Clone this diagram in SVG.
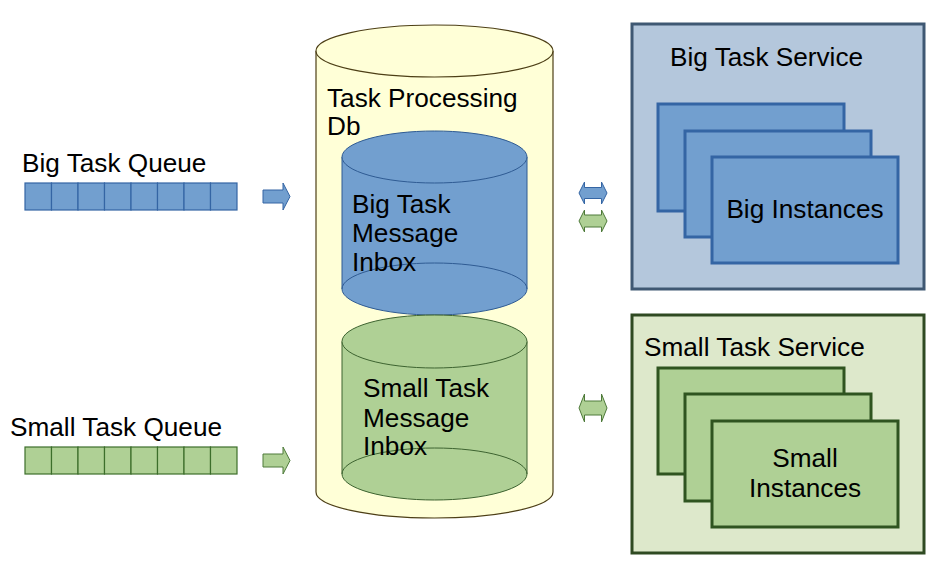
<svg xmlns="http://www.w3.org/2000/svg" width="942" height="562" viewBox="0 0 942 562">
<style>
text{font-family:"Liberation Sans",Arial,sans-serif;font-size:26.2px;fill:#000}
.bq{fill:#729fcf;stroke:#3465a4;stroke-width:1.2}
.gq{fill:#afd095;stroke:#3c6e2b;stroke-width:1.2}
.bi{fill:#729fcf;stroke:#3465a4;stroke-width:3}
.gi{fill:#afd095;stroke:#2f5420;stroke-width:3}
.ba{fill:#729fcf;stroke:#3465a4;stroke-width:1}
.ga{fill:#afd095;stroke:#4e7a3a;stroke-width:1}
.db{fill:#ffffd7;stroke:#4d3f16;stroke-width:1.2}
.bc{fill:#729fcf;stroke:#2f5b93;stroke-width:1}
.gc{fill:#afd095;stroke:#3d6330;stroke-width:1}
</style>
<g id="big-queue">
<text x="22" y="172">Big Task Queue</text>
<rect x="25" y="183" width="26.5" height="27" class="bq"/><rect x="51.5" y="183" width="26.5" height="27" class="bq"/><rect x="78" y="183" width="26.5" height="27" class="bq"/><rect x="104.5" y="183" width="26.5" height="27" class="bq"/><rect x="131" y="183" width="26.5" height="27" class="bq"/><rect x="157.5" y="183" width="26.5" height="27" class="bq"/><rect x="184" y="183" width="26.5" height="27" class="bq"/><rect x="210.5" y="183" width="26.5" height="27" class="bq"/>
</g>
<g id="small-queue">
<text x="10" y="436">Small Task Queue</text>
<rect x="25" y="447" width="26.5" height="27" class="gq"/><rect x="51.5" y="447" width="26.5" height="27" class="gq"/><rect x="78" y="447" width="26.5" height="27" class="gq"/><rect x="104.5" y="447" width="26.5" height="27" class="gq"/><rect x="131" y="447" width="26.5" height="27" class="gq"/><rect x="157.5" y="447" width="26.5" height="27" class="gq"/><rect x="184" y="447" width="26.5" height="27" class="gq"/><rect x="210.5" y="447" width="26.5" height="27" class="gq"/>
</g>
<g id="task-processing-db">
<path class="db" d="M316,51 V492 A118.5,26 0 0 0 553,492 V51"/>
<ellipse class="db" cx="434.5" cy="51" rx="118.5" ry="26"/>
<text x="327" y="107">Task Processing</text>
<text x="327" y="135">Db</text>
</g>
<g id="big-inbox">
<path class="bc" d="M342,157 V289 A92.5,26 0 0 0 527,289 V157"/>
<path class="bc" d="M342,289 A92.5,26 0 0 1 527,289" style="fill:none"/>
<ellipse class="bc" cx="434.5" cy="157" rx="92.5" ry="26"/>
<text x="352" y="213">Big Task</text>
<text x="352" y="242">Message</text>
<text x="352" y="271">Inbox</text>
</g>
<g id="small-inbox">
<path class="gc" d="M342,341.5 V474 A92.5,26 0 0 0 527,474 V341.5"/>
<path class="gc" d="M342,474 A92.5,26 0 0 1 527,474" style="fill:none"/>
<ellipse class="gc" cx="434.5" cy="341.5" rx="92.5" ry="26.5"/>
<text x="363" y="397">Small Task</text>
<text x="363" y="427">Message</text>
<text x="363" y="455">Inbox</text>
</g>
<g id="big-service">
<rect x="632" y="24" width="292" height="265" fill="#b4c7dc" stroke="#3f5873" stroke-width="3"/>
<text x="670" y="66">Big Task Service</text>
<rect class="bi" x="658" y="104" width="186" height="107"/>
<rect class="bi" x="685" y="131" width="186" height="106"/>
<rect class="bi" x="712" y="157" width="186" height="106"/>
<text x="805" y="218" text-anchor="middle">Big Instances</text>
</g>
<g id="small-service">
<rect x="632" y="315" width="292" height="238" fill="#dde8cb" stroke="#2f4a22" stroke-width="3"/>
<text x="644" y="356">Small Task Service</text>
<rect class="gi" x="658" y="368" width="186" height="106"/>
<rect class="gi" x="685" y="394" width="186" height="107"/>
<rect class="gi" x="712" y="421" width="186" height="106"/>
<text x="805" y="467" text-anchor="middle">Small</text>
<text x="805" y="497" text-anchor="middle">Instances</text>
</g>
<g id="connectors">
<path class="ba" d="M263,190 H283 V183 L290,196.5 L283,210 V203 H263 Z"/>
<path class="ga" d="M263,454 H283 V447 L290,460.5 L283,474 V467 H263 Z"/>
<path class="ba" d="M579,193 L584.5,182 V187.5 H601.5 V182 L607,193 L601.5,204 V198.5 H584.5 V204 Z"/>
<path class="ga" d="M579,221 L584.5,210 V215 H601.5 V210 L607,221 L601.5,232 V227 H584.5 V232 Z"/>
<path class="ga" d="M579,408 L584.5,394 V401 H601.5 V394 L607,408 L601.5,422 V415 H584.5 V422 Z"/>
</g>
</svg>
